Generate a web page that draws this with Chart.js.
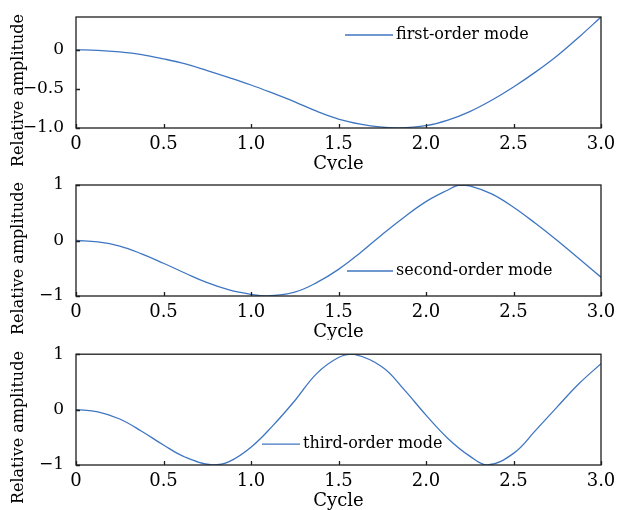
<!DOCTYPE html>
<html>
<head>
<meta charset="utf-8">
<script src="https://cdn.jsdelivr.net/npm/chart.js@4/dist/chart.umd.min.js"></script>
<style>
  body { margin: 0; background: #fff; }
  #wrap { position: relative; width: 624px; height: 510px; overflow: hidden; }
  canvas { position: absolute; left: 0; }
</style>
</head>
<body>
<div id="wrap">
  <canvas id="c1" width="624" height="170" style="top:0px"></canvas>
  <canvas id="c2" width="624" height="170" style="top:170px"></canvas>
  <canvas id="c3" width="624" height="170" style="top:340px"></canvas>
</div>
<script>
/*************** Data *************************************/

var xTicks = [0, 0.5, 1.0, 1.5, 2.0, 2.5, 3.0];
var xTickLabels = ['0', '0.5', '1.0', '1.5', '2.0', '2.5', '3.0'];

var yTicksFirst = [-1, -0.5, 0];
var yTickLabelsFirst = ['\u22121.0', '\u22120.5', '0'];
var yTicksOther = [-1, 0, 1];
var yTickLabelsOther = ['\u22121', '0', '1'];

var seriesNames = ['first-order mode', 'second-order mode', 'third-order mode'];

var cycleFirst = [0, 0.125, 0.25, 0.375, 0.5, 0.625, 0.75, 0.875, 1.0, 1.125, 1.25, 1.375, 1.5,
                  1.625, 1.75, 1.83, 2.0, 2.125, 2.25, 2.375, 2.5, 2.625, 2.75, 2.875, 3.0];
var ampFirst = [0, -0.006, -0.026, -0.06, -0.115, -0.18, -0.265, -0.355, -0.45, -0.555, -0.665, -0.785, -0.885,
                -0.95, -0.99, -1.0, -0.97, -0.90, -0.79, -0.645, -0.475, -0.285, -0.075, 0.165, 0.42];

var cycleSecond = [0, 0.125, 0.25, 0.375, 0.5, 0.625, 0.75, 0.875, 1.0, 1.09, 1.25, 1.375, 1.5,
                   1.625, 1.75, 1.875, 2.0, 2.125, 2.19, 2.25, 2.375, 2.5, 2.625, 2.75, 2.875, 3.0];
var ampSecond = [0, -0.025, -0.10, -0.24, -0.41, -0.59, -0.76, -0.89, -0.97, -1.0, -0.93, -0.76, -0.52,
                 -0.22, 0.11, 0.42, 0.70, 0.91, 1.0, 0.985, 0.84, 0.60, 0.31, 0.0, -0.33, -0.66];

var cycleThird = [0, 0.125, 0.25, 0.375, 0.5, 0.625, 0.78, 0.875, 1.0, 1.125, 1.25, 1.375, 1.5,
                  1.585, 1.75, 1.875, 2.0, 2.125, 2.25, 2.35, 2.5, 2.625, 2.75, 2.875, 3.0];
var ampThird = [0, -0.04, -0.17, -0.39, -0.64, -0.86, -1.0, -0.94, -0.68, -0.29, 0.16, 0.65, 0.94,
                1.0, 0.77, 0.36, -0.10, -0.52, -0.84, -1.0, -0.79, -0.38, 0.05, 0.47, 0.83];

/*************** Frame, inward ticks, legend and titles ****************/

var LINE_COLOR = '#3f76c2';
var FONT = 'DejaVu Serif';

var panelPlugin = {
    id: 'panel',
    afterDraw: function (chart, args, opts) {
        var ctx = chart.ctx, a = chart.chartArea;
        var xs = chart.scales.x, ys = chart.scales.y;
        ctx.save();

        // box round the plot
        ctx.strokeStyle = '#1e1e1e';
        ctx.lineWidth = 1.3;
        ctx.strokeRect(a.left, a.top, a.right - a.left, a.bottom - a.top);

        // short ticks pointing into the plot
        ctx.beginPath();
        xTicks.forEach(function (v) {
            var px = Math.round(xs.getPixelForValue(v)) + 0.5;
            ctx.moveTo(px, a.bottom); ctx.lineTo(px, a.bottom - 4);
        });
        opts.yTicks.forEach(function (v) {
            var py = Math.round(ys.getPixelForValue(v)) + 0.5;
            ctx.moveTo(a.left, py); ctx.lineTo(a.left + 4, py);
        });
        ctx.stroke();

        // legend inside the plot
        var ly = a.top + opts.legendY;
        ctx.strokeStyle = LINE_COLOR;
        ctx.lineWidth = 1.3;
        ctx.beginPath();
        ctx.moveTo(a.left + opts.legendX, ly);
        ctx.lineTo(a.left + opts.legendX + opts.legendLen, ly);
        ctx.stroke();
        ctx.fillStyle = '#000';
        ctx.font = '16px "' + FONT + '"';
        ctx.textAlign = 'left';
        ctx.textBaseline = 'middle';
        ctx.fillText(opts.name, a.left + opts.legendX + opts.legendLen + 3, ly);

        // axis titles
        ctx.font = '18px "' + FONT + '"';
        ctx.textAlign = 'center';
        ctx.fillText('Cycle', (a.left + a.right) / 2, a.bottom + 36);
        ctx.translate(19, (a.top + a.bottom) / 2 + 18);
        ctx.rotate(-Math.PI / 2);
        ctx.font = '16px "' + FONT + '"';
        ctx.fillText('Relative amplitude', 0, 0);

        ctx.restore();
    }
};

/*************** Creating charts ****************/

function createChart(id, cycles, amps, yMax, yTicks, yLabels, padTop, xHeight, legend) {
    var points = cycles.map(function (c, i) { return {x: c, y: amps[i]}; });

    return new Chart(document.getElementById(id), {
        type: 'line',
        data: {
            datasets: [{
                label: legend.name,
                data: points,
                borderColor: LINE_COLOR,
                borderWidth: 1.3,
                pointRadius: 0,
                fill: false,
                tension: 0.4
            }]
        },
        options: {
            responsive: false,
            animation: false,
            layout: { padding: { top: padTop, right: 23, left: 0, bottom: 0 } },
            plugins: {
                legend: { display: false },
                tooltip: { enabled: false },
                panel: {
                    yTicks: yTicks, name: legend.name,
                    legendX: legend.x, legendY: legend.y, legendLen: legend.len
                }
            },
            scales: {
                x: {
                    type: 'linear', min: 0, max: 3,
                    afterBuildTicks: function (s) { s.ticks = xTicks.map(function (v) { return {value: v}; }); },
                    afterFit: function (s) { s.height = xHeight; },
                    grid: { display: false },
                    border: { display: false },
                    ticks: {
                        autoSkip: false, maxRotation: 0, padding: -2, color: '#000',
                        font: { family: FONT, size: 18 },
                        callback: function (v, i) { return xTickLabels[i]; }
                    }
                },
                y: {
                    type: 'linear', min: -1, max: yMax,
                    afterBuildTicks: function (s) { s.ticks = yTicks.map(function (v) { return {value: v}; }); },
                    afterFit: function (s) { s.width = 76; },
                    grid: { display: false },
                    border: { display: false },
                    ticks: {
                        padding: 4, color: '#000',
                        font: { family: FONT, size: 17 },
                        callback: function (v, i) { return yLabels[i]; }
                    }
                }
            }
        },
        plugins: [panelPlugin]
    });
}

createChart('c1', cycleFirst, ampFirst, 0.42, yTicksFirst, yTickLabelsFirst, 17, 42,
    {name: seriesNames[0], x: 269, y: 18, len: 48});
createChart('c2', cycleSecond, ampSecond, 1, yTicksOther, yTickLabelsOther, 15, 44,
    {name: seriesNames[1], x: 271, y: 86, len: 46});
createChart('c3', cycleThird, ampThird, 1, yTicksOther, yTickLabelsOther, 14, 45,
    {name: seriesNames[2], x: 186, y: 90, len: 38});
</script>
</body>
</html>
